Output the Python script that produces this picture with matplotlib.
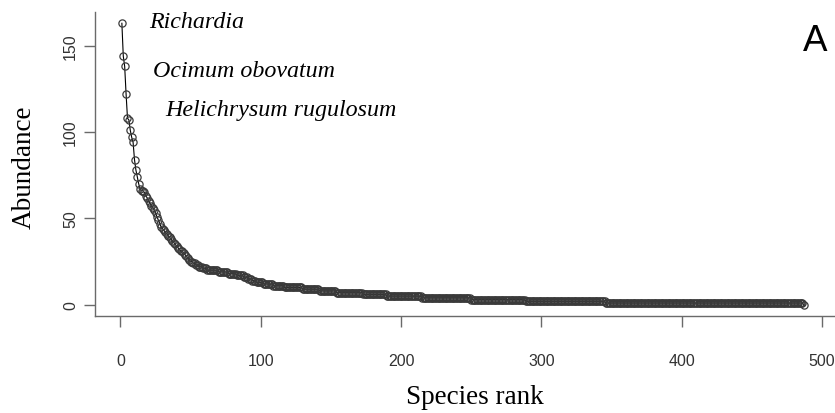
import numpy as np
import matplotlib.pyplot as plt

# abundances of the most common species, ranks 1-55
head_abund = [163, 144, 138, 122, 108, 107, 101, 97, 94, 84,
              78, 74, 70, 67, 66, 66, 65, 63, 62, 60,
              59, 57, 56, 55, 53, 51, 49, 47, 45, 44,
              43, 42, 41, 40, 39, 38, 37, 36, 35, 34,
              33, 32, 31, 31, 30, 29, 28, 27, 26, 25,
              25, 24, 24, 23, 23]
# rest of the curve: abundance level and number of species at that level
tail_levels = [22, 21, 20, 19, 18, 17, 16, 15, 14, 13, 12, 11,
               10, 9, 8, 7, 6, 5, 4, 3, 2, 1, 0]
tail_counts = [3, 3, 8, 7, 6, 5, 3, 3, 3, 5, 7, 8,
               13, 12, 12, 19, 17, 25, 35, 39, 57, 141, 1]
labels = ['Richardia', 'Ocimum obovatum', 'Helichrysum rugulosum']
label_pos = [(20.5, 160.6), (23.4, 132.6), (31.7, 109.8)]

abund = np.concatenate([head_abund, np.repeat(tail_levels, tail_counts)])
rank = np.arange(1, len(abund) + 1)

W, H = 835, 414
fig = plt.figure(figsize=(W / 100, H / 100), dpi=100)
ax = fig.add_axes([94.6 / W, (H - 317) / H, (831 - 94.6) / W, (317 - 13) / H])

ax.plot(rank, abund, color='black', lw=0.8, marker='o', ms=5.2,
        mfc='none', mec='#3a3a3a', mew=0.9)

n = len(abund)
ax.set_xlim(1 - 0.04 * (n - 1), n + 0.04 * (n - 1))
ax.set_ylim(-0.04 * 163, 163 * 1.04)
ax.set_xticks([0, 100, 200, 300, 400, 500])
ax.set_yticks([0, 50, 100, 150])
ax.spines['top'].set_visible(False)
ax.spines['right'].set_visible(False)
for s in ['left', 'bottom']:
    ax.spines[s].set_color('#6a6a6a')
    ax.spines[s].set_linewidth(1.0)
ax.spines['bottom'].set_bounds(1 - 0.04 * (n - 1), 512)
ax.tick_params(axis='both', colors='#6a6a6a', length=8, width=1.0,
               labelcolor='#333333', labelsize=11.5)
ax.tick_params(axis='x', pad=19)
ax.tick_params(axis='y', pad=4)
for t in ax.get_yticklabels():
    t.set_rotation(90)
    t.set_va('center')
for t in ax.get_xticklabels() + ax.get_yticklabels():
    t.set_fontfamily('Liberation Sans')

for lab, (x, y) in zip(labels, label_pos):
    ax.text(x, y, lab, fontsize=17.3, style='italic', family='Liberation Serif',
            ha='left', va='baseline')

fig.text(475 / W, 1 - 398 / H, 'Species rank', fontsize=19.5,
         family='Liberation Serif', ha='center', va='center')
fig.text(24 / W, 1 - 167 / H, 'Abundance', fontsize=19.5, rotation=90,
         family='Liberation Serif', ha='center', va='center')
fig.text(814.7 / W, 1 - 41.7 / H, 'A', fontsize=26.5, family='Liberation Sans',
         ha='center', va='center')

fig.savefig('out.png', dpi=100)
